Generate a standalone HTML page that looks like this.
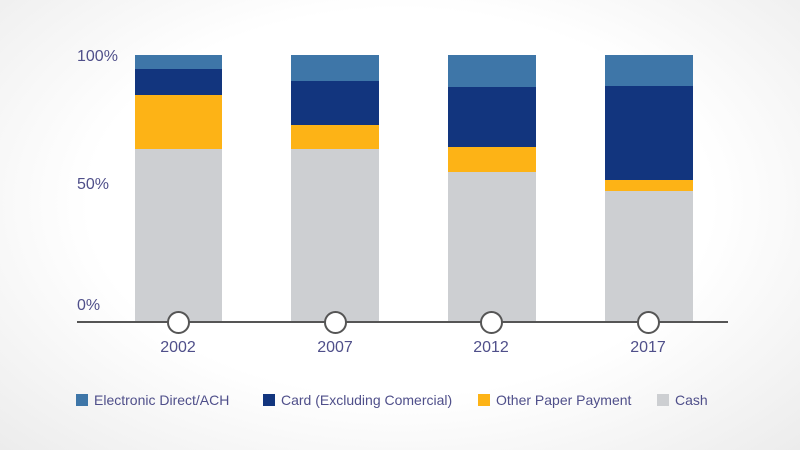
<!DOCTYPE html>
<html><head><style>
html,body{margin:0;padding:0}
body{width:800px;height:450px;overflow:hidden;position:relative;background:radial-gradient(ellipse at 50% 45%,#ffffff 55%,#ececec 100%);font-family:"Liberation Sans",sans-serif;}
.b{position:absolute}
.t{position:absolute;color:#4f4f8a;font-size:16px}
.lg{position:absolute;top:393px;font-size:14px;color:#4f4f8a;line-height:14px}
.lg span{display:inline-block;width:12px;height:12px;vertical-align:-1px;margin-right:6px}
</style></head><body>
<div class="t" style="left:77px;top:48px">100%</div>
<div class="t" style="left:77px;top:176px">50%</div>
<div class="t" style="left:77px;top:297px">0%</div>

<!-- bar 1 -->
<div class="b" style="left:135px;width:87px;top:55px;height:14px;background:#3e76a8"></div>
<div class="b" style="left:135px;width:87px;top:69px;height:26px;background:#12357e"></div>
<div class="b" style="left:135px;width:87px;top:95px;height:54px;background:#fdb316"></div>
<div class="b" style="left:135px;width:87px;top:149px;height:173px;background:#cdcfd2"></div>
<!-- bar 2 -->
<div class="b" style="left:291px;width:88px;top:55px;height:26px;background:#3e76a8"></div>
<div class="b" style="left:291px;width:88px;top:81px;height:44px;background:#12357e"></div>
<div class="b" style="left:291px;width:88px;top:125px;height:24px;background:#fdb316"></div>
<div class="b" style="left:291px;width:88px;top:149px;height:173px;background:#cdcfd2"></div>
<!-- bar 3 -->
<div class="b" style="left:448px;width:88px;top:55px;height:32px;background:#3e76a8"></div>
<div class="b" style="left:448px;width:88px;top:87px;height:60px;background:#12357e"></div>
<div class="b" style="left:448px;width:88px;top:147px;height:25px;background:#fdb316"></div>
<div class="b" style="left:448px;width:88px;top:172px;height:150px;background:#cdcfd2"></div>
<!-- bar 4 -->
<div class="b" style="left:605px;width:88px;top:55px;height:31px;background:#3e76a8"></div>
<div class="b" style="left:605px;width:88px;top:86px;height:94px;background:#12357e"></div>
<div class="b" style="left:605px;width:88px;top:180px;height:11px;background:#fdb316"></div>
<div class="b" style="left:605px;width:88px;top:191px;height:131px;background:#cdcfd2"></div>

<div class="b" style="left:77px;width:651px;top:321px;height:2px;background:#555"></div>
<div class="b" style="left:167px;top:311px;width:19px;height:19px;border:2px solid #555;border-radius:50%;background:#fff"></div>
<div class="b" style="left:324px;top:311px;width:19px;height:19px;border:2px solid #555;border-radius:50%;background:#fff"></div>
<div class="b" style="left:480px;top:311px;width:19px;height:19px;border:2px solid #555;border-radius:50%;background:#fff"></div>
<div class="b" style="left:637px;top:311px;width:19px;height:19px;border:2px solid #555;border-radius:50%;background:#fff"></div>

<div class="t" style="left:148px;width:60px;text-align:center;top:339px">2002</div>
<div class="t" style="left:305px;width:60px;text-align:center;top:339px">2007</div>
<div class="t" style="left:461px;width:60px;text-align:center;top:339px">2012</div>
<div class="t" style="left:618px;width:60px;text-align:center;top:339px">2017</div>

<div class="lg" style="left:76px"><span style="background:#3e76a8"></span>Electronic Direct/ACH</div>
<div class="lg" style="left:263px"><span style="background:#12357e"></span>Card (Excluding Comercial)</div>
<div class="lg" style="left:478px"><span style="background:#fdb316"></span>Other Paper Payment</div>
<div class="lg" style="left:657px"><span style="background:#cdcfd2"></span>Cash</div>
</body></html>
